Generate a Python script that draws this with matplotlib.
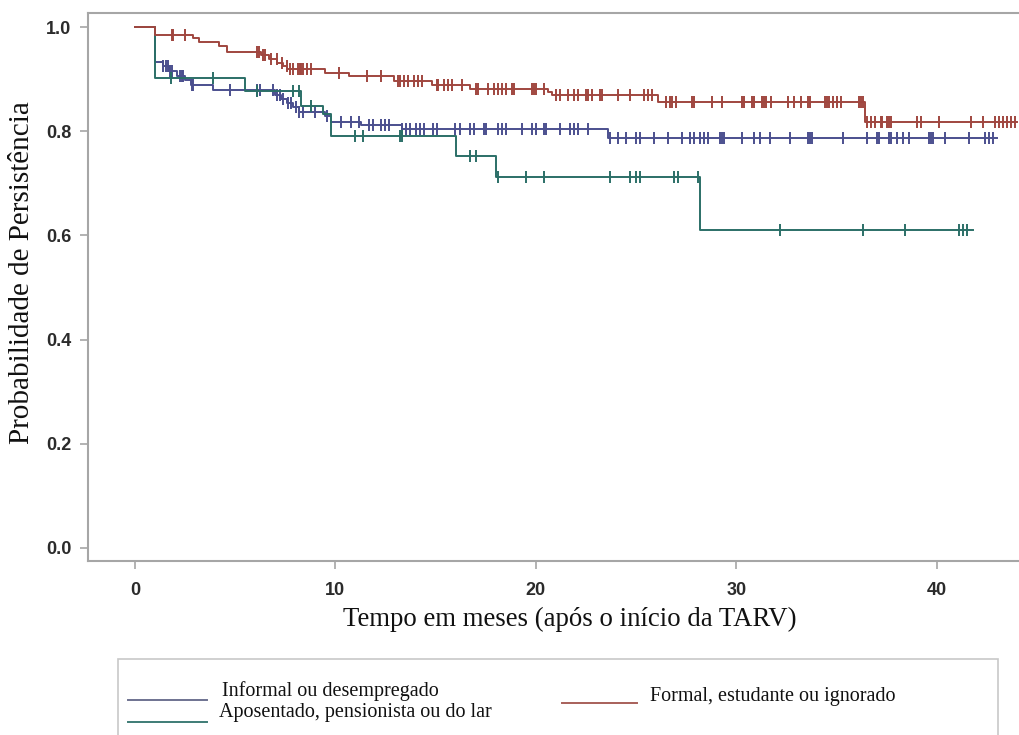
import numpy as np
import matplotlib
matplotlib.use("Agg")
import matplotlib.pyplot as plt
from matplotlib.lines import Line2D

# Kaplan-Meier estimates by occupation group: step times (months) and survival
informal_times = [0, 1.0, 1.4, 1.7, 2.1, 2.5, 2.8, 3.9, 7.0, 7.3, 7.6, 7.9, 8.2, 9.5, 9.8, 11.3, 13.3, 23.6, 43.0]
informal_surv = [1.0, 0.934, 0.925, 0.916, 0.907, 0.898, 0.889, 0.879, 0.870, 0.862, 0.854, 0.846, 0.838,
                 0.829, 0.818, 0.813, 0.805, 0.788, 0.788]
informal_censor = [1.4, 1.55, 1.66, 1.75, 1.83, 2.24, 2.33, 2.41, 2.83, 2.91, 4.74, 6.07, 6.23, 6.9, 7.07,
                   7.23, 7.4, 7.65, 7.8, 8.06, 8.2, 8.4, 9.0, 9.6, 10.3, 10.8, 11.2, 11.7, 11.9, 12.3, 12.5,
                   12.7, 13.3, 13.5, 13.7, 14.0, 14.2, 14.4, 14.85, 15.05, 15.96, 16.2, 16.74, 16.9, 17.4,
                   17.5, 18.1, 18.3, 18.5, 19.3, 19.8, 20.0, 20.4, 20.5, 21.2, 21.7, 21.9, 22.1, 22.6,
                   23.7, 24.1, 24.5, 25.0, 25.2, 25.9, 26.6, 27.3, 27.7, 27.9, 28.2, 28.4, 28.6, 29.2,
                   29.3, 29.4, 30.3, 30.9, 31.2, 31.7, 32.7, 33.6, 33.7, 33.8, 35.3, 36.5, 37.0, 37.1,
                   37.6, 37.7, 38.0, 38.3, 38.6, 39.6, 39.7, 39.8, 40.4, 41.6, 42.4, 42.6, 42.8]

retired_times = [0, 1.0, 5.5, 8.3, 9.4, 9.8, 16.0, 18.0, 28.2, 41.8]
retired_surv = [1.0, 0.903, 0.878, 0.849, 0.833, 0.791, 0.753, 0.713, 0.611, 0.611]
retired_censor = [1.8, 3.9, 6.1, 7.9, 8.2, 8.8, 11.0, 11.4, 13.2, 13.3, 16.7, 17.0, 18.1, 19.5, 20.4,
                  23.7, 24.7, 25.0, 25.2, 26.9, 27.1, 28.1, 32.2, 36.3, 38.4, 41.1, 41.3, 41.5]

formal_times = [0, 1.0, 2.9, 3.2, 4.2, 4.6, 6.3, 6.7, 7.1, 7.4, 7.6, 9.5, 10.7, 12.9, 14.8, 16.7, 20.6,
                20.8, 26.1, 36.4, 44.0]
formal_surv = [1.0, 0.986, 0.979, 0.972, 0.965, 0.953, 0.946, 0.939, 0.932, 0.925, 0.919, 0.912, 0.906,
               0.897, 0.890, 0.882, 0.876, 0.870, 0.857, 0.818, 0.818]
formal_censor = [1.83, 1.91, 2.49, 6.07, 6.2, 6.37, 6.48, 6.8, 7.07, 7.32, 7.57, 7.73, 7.9, 8.15, 8.23,
                 8.31, 8.4, 8.56, 8.8, 10.2, 11.6, 12.3, 13.1, 13.2, 13.4, 13.6, 13.9, 14.1, 14.3, 15.05,
                 15.1, 15.4, 15.6, 15.8, 16.3, 17.0, 17.1, 17.6, 17.9, 18.1, 18.3, 18.5, 18.8, 18.9,
                 19.8, 19.9, 20.0, 20.4, 21.0, 21.2, 21.6, 21.9, 22.1, 22.5, 22.6, 22.8, 23.2, 23.3,
                 24.1, 24.7, 25.4, 25.6, 25.8, 26.5, 26.7, 26.8, 27.0, 27.8, 27.9, 28.8, 29.3, 30.3,
                 30.4, 30.8, 30.9, 31.3, 31.4, 31.5, 31.75, 32.6, 32.9, 33.25, 33.6, 33.7, 34.4, 34.5,
                 34.6, 34.8, 35.0, 35.2, 36.1, 36.2, 36.3, 36.5, 36.7, 36.9, 37.2, 37.25, 37.5, 37.6,
                 37.7, 39.0, 39.2, 40.1, 41.7, 42.3, 42.9, 43.1, 43.3, 43.5, 43.7, 43.9]

group_labels = ["Informal ou desempregado", "Aposentado, pensionista ou do lar",
                "Formal, estudante ou ignorado"]
group_colors = ["#4B4F8E", "#2B6F67", "#A0463F"]
legend_colors = ["#6E7290", "#3E7C76", "#A8605A"]

x_ticks = [0, 10, 20, 30, 40]
y_ticks = [0.0, 0.2, 0.4, 0.6, 0.8, 1.0]

W, H = 1019, 735
fig = plt.figure(figsize=(W / 100, H / 100), dpi=100)
ax = fig.add_axes([88 / W, 1 - 561 / H, (1037 - 88) / W, (561 - 13.3) / H])
ax.set_xlim(-2.34, 45.0)
ax.set_ylim(-0.0256, 1.0269)


def surv_at(times, surv, t):
    idx = np.searchsorted(np.asarray(times), t, side="right") - 1
    return np.asarray(surv)[idx]


groups = [
    (informal_times, informal_surv, informal_censor),
    (retired_times, retired_surv, retired_censor),
    (formal_times, formal_surv, formal_censor),
]

for (times, surv, cens), color, label in zip(groups, group_colors, group_labels):
    ax.step(times, surv, where="post", color=color, lw=1.4, label=label)
    cens = np.asarray(cens)
    ax.plot(cens, surv_at(times, surv, cens), linestyle="none", marker="|",
            markersize=8, markeredgewidth=1.4, color=color)

spine_color = "#A6A6A6"
for side in ["left", "top", "bottom", "right"]:
    ax.spines[side].set_color(spine_color)
    ax.spines[side].set_linewidth(1.5)

ax.set_xticks(x_ticks)
ax.set_xticklabels([str(v) for v in x_ticks])
ax.set_yticks(y_ticks)
ax.set_yticklabels([f"{v:.1f}" for v in y_ticks])
ax.tick_params(axis="both", direction="out", length=6, width=1.2, color=spine_color,
               labelcolor="#2b2b2b", labelsize=13)
for lab in ax.get_xticklabels() + ax.get_yticklabels():
    lab.set_fontfamily("Liberation Sans")
    lab.set_fontweight("bold")
ax.tick_params(axis="x", pad=9)
ax.tick_params(axis="y", pad=6)

ax.set_xlabel("Tempo em meses (após o início da TARV)", fontfamily="Liberation Serif",
              fontsize=19.3, color="#111111")
ax.xaxis.set_label_coords((570 - 88) / (1037 - 88), -(619 - 561) / (561 - 13.3))
ax.xaxis.label.set_verticalalignment("center")
ax.set_ylabel("Probabilidade de Persistência", fontfamily="Liberation Serif",
              fontsize=21, color="#111111")
ax.yaxis.set_label_coords(-(88 - 22) / (1037 - 88), (561 - 273) / (561 - 13.3))
ax.yaxis.label.set_verticalalignment("center")

# Legend box below the plot, running past the lower edge
box = plt.Rectangle((118 / W, -0.05), (998 - 118) / W, (1 - 659 / H) + 0.05,
                    transform=fig.transFigure, facecolor="white", edgecolor="#C8C8C8",
                    lw=1.2, clip_on=False)
fig.add_artist(box)

legend_entries = [
    # (line x0, line x1, line y, text x, text y) in pixels
    (128, 207, 700, 222, 691),
    (128, 207, 722, 219, 713),
    (562, 637, 703, 650, 696),
]
for (x0, x1, ly, tx, ty), color, label in zip(legend_entries, legend_colors, group_labels):
    fig.add_artist(Line2D([x0 / W, x1 / W], [1 - ly / H, 1 - ly / H], color=color, lw=1.4,
                          transform=fig.transFigure))
    fig.text(tx / W, 1 - ty / H, label, fontfamily="Liberation Serif", fontsize=14.5,
             color="#111111", ha="left", va="center")

fig.savefig("out.png", dpi=100)
